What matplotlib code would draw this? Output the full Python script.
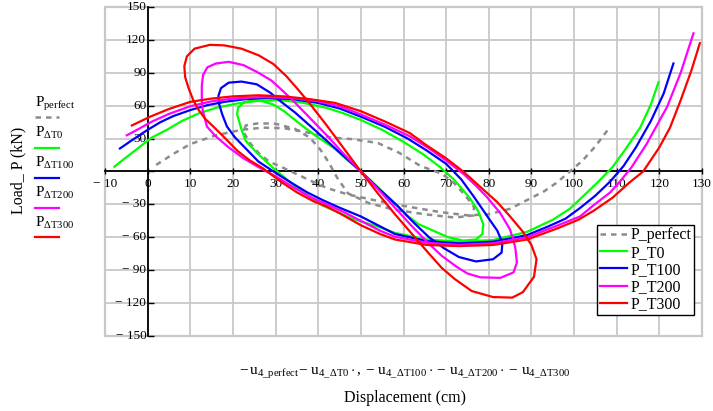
import matplotlib
matplotlib.use("Agg")
import matplotlib.pyplot as plt
from matplotlib.lines import Line2D
from matplotlib.patches import Rectangle

plt.rcParams['font.family'] = ['Liberation Serif', 'DejaVu Serif']
plt.rcParams['mathtext.fontset'] = 'custom'
plt.rcParams['mathtext.rm'] = 'Liberation Serif'
plt.rcParams['mathtext.it'] = 'Liberation Serif:italic'
plt.rcParams['mathtext.bf'] = 'Liberation Serif:bold'

# ---------------------------------------------------------------- data
x_ticks = [-10, 0, 10, 20, 30, 40, 50, 60, 70, 80, 90, 100, 110, 120, 130]
x_tick_labels = ["\u2212 10", "0", "10", "20", "30", "40", "50", "60", "70",
                 "80", "90", "100", "110", "120", "130"]
y_ticks = [-150, -120, -90, -60, -30, 0, 30, 60, 90, 120, 150]
y_tick_labels = ["\u2212 150", "\u2212 120", "\u2212 90", "\u2212 60", "\u2212 30",
                 "", "30", "60", "90", "120", "150"]

perfect_x = [2, 6, 10, 16, 22, 27, 32, 37, 43, 48, 54, 59, 64, 69, 72, 74.5, 76.5,
             76.5, 72, 65, 58, 52, 47, 44.5, 42.5, 40.5, 38, 34.5, 30, 26, 23, 22.5,
             24, 26, 28.5, 32, 38, 42, 47, 53, 61, 68.6, 75, 80, 85, 89, 93, 96, 99,
             102, 105, 108.5]
perfect_y = [6, 16, 25, 33, 38, 40, 39.5, 36, 31, 29.5, 26, 17, 5, -2, -11, -22, -32,
             -40, -42, -39, -35, -29, -20, -6, 8, 20, 31, 39, 43.5, 44, 42, 36,
             26, 17, 9, 3, -8, -15, -21, -26, -32, -37, -40, -39, -34, -26, -18, -10, 0,
             10, 23, 41]

t0_x = [-7.8, -5, -2, 1, 4.5, 8, 12, 16, 21, 26, 31, 36, 42, 46, 50, 55, 60, 64.5,
        68.6, 72, 75.5, 77.5, 78.7, 78.5, 77, 74, 70.5, 67, 63.5, 60.8, 58, 55, 52,
        50, 47, 43.5, 39.6, 35.5, 32, 29.5, 27, 24.5, 22.5, 21.2, 21, 21.5, 22.2, 23,
        25.6, 29.5, 35, 41, 48, 54.5, 58, 65.5, 73, 81, 89, 95, 99, 102, 105.5, 109,
        112, 115.5, 118, 119.8]
t0_y = [4.4, 13, 22, 31, 38, 46, 53, 58, 62, 64.5, 65, 63, 58, 53, 47, 38, 27, 16,
        4, -8, -24, -36, -48, -57, -62, -63, -60, -54, -48, -40, -29, -18, -7,
        0, 10, 22, 32, 44, 55, 61, 64, 65, 63, 58, 52, 45, 36, 28,
        17, 3, -15, -31, -43, -51, -56, -62, -64, -62.5, -55, -44, -34, -23, -10, 4,
        20, 40, 61, 81.5]

t100_x = [-6.5, -3.5, 0, 3, 6, 10, 14, 18, 23, 28, 34, 40, 45, 50, 55.5, 61, 65.5,
          70, 73.5, 76.5, 79.5, 82, 83.2, 83, 81, 77, 73, 69.5, 66, 62.5, 58.5, 54,
          50, 46, 42, 38, 34.5, 31.5, 28.7, 25.6, 22, 19, 17.2, 16.6, 16.8, 17.5,
          18.6, 20.5, 23, 26, 30.3, 34, 37.4, 41, 45, 50, 54.5, 58, 65.5, 73, 81, 89,
          94, 98, 101.5, 105, 108.5, 111.6, 114.5, 118, 121, 123.3]
t100_y = [21, 29, 38, 45, 50.5, 56, 60.5, 63.5, 66, 67, 66, 62.5, 57.5, 50, 41, 30, 19,
          7, -7, -23, -40, -54, -65, -74, -80, -82, -78, -70, -60, -47, -31, -15,
          0, 14, 28, 42, 54, 63, 72, 79.5, 82, 81, 76, 69, 61, 52,
          41, 31, 21, 9, -2, -11, -19, -26, -33, -41, -50, -57, -63.5, -65.5, -64, -58,
          -50, -43, -33, -22, -9, 5, 22, 46, 71, 98.5]

t200_x = [-4.9, -2, 1, 5, 10, 15, 20, 27, 34, 40, 45, 50, 55.5, 61.5, 66, 70, 74, 77,
          79.5, 82.7, 85, 86.2, 86.6, 85.8, 82.7, 78, 75, 72.5, 69, 66, 62, 58, 54,
          50, 46, 42, 38, 34, 31, 29, 26, 22.5, 19, 16, 14, 13, 12.7, 12.7, 12.9,
          13.9, 16, 19, 22.5, 26, 30.3, 34, 38, 42, 46, 50, 54.5, 58, 65.5, 73, 81, 89,
          95, 101.4, 104.5, 108.5, 111, 113.5, 117, 121.8, 125, 128]
t200_y = [33, 39, 45.5, 52.5, 59.5, 64, 66.5, 68, 67, 64, 59.5, 52, 43, 32, 21, 10, -2,
          -13, -23, -38, -53, -69, -83, -92, -97, -96.5, -93, -87, -77, -66, -50, -33,
          -16, 0, 16, 33, 49, 65, 76, 83, 90, 97, 100, 98.5, 95, 88, 78, 66, 56,
          41, 32, 22, 12, 4, -5, -14, -23, -30, -37, -45, -54, -59.5, -65, -67, -65.5,
          -60, -51, -41, -31, -19, -8, 4, 25, 58.8, 90, 126]

t300_x = [-3.7, 0.6, 5, 10, 15, 20, 26, 32, 38, 44, 50, 56, 61.5, 65, 70, 74, 78, 82,
          85, 88, 90, 91.2, 90.6, 88, 85.5, 81, 76, 72, 69, 66, 62, 58, 54, 50, 46,
          42, 38, 35, 32.5, 29.5, 26, 22, 18, 14.6, 11, 9.2, 8.6, 8.8, 9.6, 10.6,
          11.8, 13.5, 15.4, 18, 21, 24, 27, 31.5, 35, 38.8, 42, 45, 50, 54.5, 58, 65.5,
          73, 81, 89, 96, 101, 104.5, 109, 113, 116.2, 120, 122.5, 125, 127.5, 129.5]
t300_y = [42, 50, 57, 63.5, 66.5, 68.5, 69.5, 68.5, 66, 62.5, 55, 45, 35, 25, 12, 0,
          -14, -28, -41, -55, -67, -80, -96, -110, -115, -114.5, -109, -98, -88, -75,
          -57, -39, -20, 0, 21, 42, 62, 76, 87, 98, 106, 112, 115, 115.5, 112, 105, 96,
          86, 76, 66, 57, 48, 41, 31, 19, 10, 3, -10, -19, -27, -32, -38, -49, -57,
          -62, -67, -68, -67, -62, -52, -44, -36, -24, -10, 0, 22, 40, 65, 92, 117]

series = [
    ("P_perfect", perfect_x, perfect_y, "#8c8c8c", (0, (2.2, 2.0))),
    ("P_T0", t0_x, t0_y, "#00ff00", "-"),
    ("P_T100", t100_x, t100_y, "#0000ff", "-"),
    ("P_T200", t200_x, t200_y, "#ff00ff", "-"),
    ("P_T300", t300_x, t300_y, "#ff0000", "-"),
]
side_labels = [r"$\mathrm{P}_{\mathrm{perfect}}$", r"$\mathrm{P}_{\Delta\mathrm{T0}}$",
               r"$\mathrm{P}_{\Delta\mathrm{T100}}$", r"$\mathrm{P}_{\Delta\mathrm{T200}}$",
               r"$\mathrm{P}_{\Delta\mathrm{T300}}$"]

# ---------------------------------------------------------------- figure
W, H = 713, 411
fig = plt.figure(figsize=(W / 100, H / 100), dpi=100)
ax = fig.add_axes([105 / W, 75 / H, 597 / W, 329 / H])

grid_col = "#c8c8c8"
for name, xs, ys, col, ls in series:
    ax.plot(xs, ys, color=col, linestyle=ls, linewidth=1.6 if ls == "-" else 1.8,
            label=name, zorder=3)

ax.set_xlim(-10, 130)
ax.set_ylim(-150, 150)
ax.set_xticks(x_ticks)
ax.set_xticklabels(x_tick_labels)
ax.set_yticks(y_ticks)
ax.set_yticklabels(y_tick_labels)
ax.grid(True, color=grid_col, linewidth=1.3, zorder=0)
ax.set_axisbelow(True)

ax.spines['left'].set_position(('data', 0))
ax.spines['bottom'].set_position(('data', 0))
for s in ('left', 'bottom'):
    ax.spines[s].set_color('black')
    ax.spines[s].set_linewidth(1.3)
for s in ('top', 'right'):
    ax.spines[s].set_visible(False)
ax.add_patch(Rectangle((0, 0), 1, 1, transform=ax.transAxes, fill=False,
                       edgecolor=grid_col, linewidth=1.6, zorder=0.5, clip_on=False))

ax.tick_params(axis='x', direction='inout', length=5, width=1, pad=2,
               labelsize=9.5, colors='black')
ax.tick_params(axis='y', direction='in', length=4, width=1, pad=1,
               labelsize=9.5, colors='black')
for lab in ax.get_yticklabels():
    lab.set_verticalalignment('center')

leg = ax.legend(loc='upper right', bbox_to_anchor=(694 / W, 1 - 225 / H),
                bbox_transform=fig.transFigure, fontsize=11.5, frameon=True,
                fancybox=False, edgecolor='black', framealpha=1, borderpad=0.15,
                labelspacing=0.08, handlelength=1.7, handletextpad=0.25,
                borderaxespad=0)
leg.get_frame().set_linewidth(1.0)

# Mathcad-style trace labels on the left
base_y = [107, 137, 167, 197, 227]
line_y = [117, 148, 178, 208, 237]
for (name, xs, ys, col, ls), txt, by, ly in zip(series, side_labels, base_y, line_y):
    fig.text(35 / W, 1 - by / H, txt, fontsize=11, va='baseline', ha='left')
    fig.add_artist(Line2D([35 / W, 59 / W], [1 - ly / H, 1 - ly / H], color=col,
                          linestyle=ls, linewidth=1.6 if ls == "-" else 1.8))

fig.text(18 / W, 1 - 170 / H, "Load_ P (kN)", rotation=90, fontsize=11.5,
         ha='center', va='center')
fig.text(405 / W, 1 - 372 / H,
         r"$-\,\mathrm{u}_{\mathrm{4\_perfect}}\!-\,\mathrm{u}_{\mathrm{4\_\Delta T0}}\cdot,"
         r"-\,\mathrm{u}_{\mathrm{4\_\Delta T100}}\cdot-\,\mathrm{u}_{\mathrm{4\_\Delta T200}}"
         r"\cdot-\,\mathrm{u}_{\mathrm{4\_\Delta T300}}$",
         fontsize=11, ha='center', va='center')
fig.text(405 / W, 1 - 398 / H, "Displacement (cm)", fontsize=11.5,
         ha='center', va='center')

fig.savefig("out.png", dpi=100)
